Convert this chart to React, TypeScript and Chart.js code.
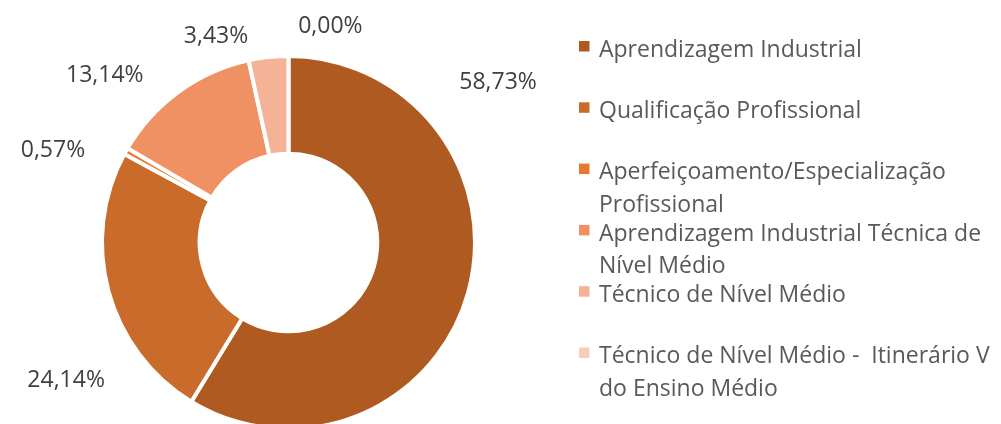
import React, { useEffect, useRef } from "react";
import { Chart, registerables } from "chart.js";

Chart.register(...registerables);

const CATEGORIES = [
  "Aprendizagem Industrial",
  "Qualificação Profissional",
  "Aperfeiçoamento/Especialização Profissional",
  "Aprendizagem Industrial Técnica de Nível Médio",
  "Técnico de Nível Médio",
  "Técnico de Nível Médio -  Itinerário V do Ensino Médio",
];
const SHARES = [58.73, 24.14, 0.57, 13.14, 3.43, 0.0];
const COLORS = ["#AE5A21", "#C96B2B", "#E6782F", "#F09163", "#F4B396", "#F8CBBA"];

// data-label placement (Excel "best fit"): angle clockwise from top (deg), gap beyond outer radius (px)
const LABEL_ANGLES = [52.4, -121.4, -68.3, -47.4, -19.2, 10.9];
const LABEL_GAPS = [80, 76, 69, 65, 36, 37];

const FONT = '"Open Sans", "Noto Sans", sans-serif';
const FONT_SIZE = 23;

const fmt = (v: number) => v.toFixed(2).replace(".", ",") + "%";

const sliceLabels = {
  id: "sliceLabels",
  afterDatasetsDraw(chart: any) {
    const ctx = chart.ctx as CanvasRenderingContext2D;
    const arc = chart.getDatasetMeta(0).data[0] as any;
    const { x, y, outerRadius } = arc.getProps(["x", "y", "outerRadius"], true);
    ctx.save();
    ctx.font = `${FONT_SIZE}px ${FONT}`;
    ctx.fillStyle = "#404040";
    ctx.textAlign = "center";
    ctx.textBaseline = "alphabetic";
    const capHalf = FONT_SIZE * 0.36;
    (chart.data.datasets[0].data as number[]).forEach((v, i) => {
      const a = (LABEL_ANGLES[i] * Math.PI) / 180;
      const r = outerRadius - 2 + LABEL_GAPS[i];
      ctx.fillText(fmt(v), x + r * Math.sin(a), y - r * Math.cos(a) + capHalf);
    });
    ctx.restore();
  },
};

const LEGEND_X = 579;
const LEGEND_FIRST_BASELINE = 56.7;
const LEGEND_STEP = 61.3;
const LEGEND_LINE = 32.5;
const LEGEND_BOX = 10.5;
const LEGEND_WRAP = 412;

function wrap(ctx: CanvasRenderingContext2D, text: string, max: number): string[] {
  const words = text.split(" ");
  const lines: string[] = [];
  let cur = "";
  for (let i = 0; i < words.length; i++) {
    const w = words[i];
    const test = cur === "" ? w : cur + " " + w;
    if (cur !== "" && w !== "" && ctx.measureText(test).width > max) {
      lines.push(cur);
      cur = w;
    } else {
      cur = test;
    }
  }
  if (cur !== "") lines.push(cur);
  return lines;
}

const sideLegend = {
  id: "sideLegend",
  afterDraw(chart: any) {
    const ctx = chart.ctx as CanvasRenderingContext2D;
    const labels = chart.data.labels as string[];
    const colors = chart.data.datasets[0].backgroundColor as string[];
    ctx.save();
    ctx.font = `${FONT_SIZE}px ${FONT}`;
    ctx.textAlign = "left";
    ctx.textBaseline = "alphabetic";
    labels.forEach((label, i) => {
      const base = LEGEND_FIRST_BASELINE + i * LEGEND_STEP;
      ctx.fillStyle = colors[i];
      ctx.fillRect(LEGEND_X, base - 15.7, LEGEND_BOX, LEGEND_BOX);
      ctx.fillStyle = "#595959";
      const lines = wrap(ctx, label, LEGEND_WRAP);
      lines.forEach((ln, j) => {
        ctx.fillText(ln, LEGEND_X + 20, base + j * LEGEND_LINE);
      });
    });
    ctx.restore();
  },
};

export default function App() {
  const ref = useRef<HTMLCanvasElement | null>(null);
  useEffect(() => {
    if (!ref.current) return;
    const chart = new Chart(ref.current, {
      type: "doughnut",
      data: {
        labels: CATEGORIES,
        datasets: [
          {
            data: SHARES,
            backgroundColor: COLORS,
            borderColor: "#ffffff",
            borderWidth: 4,
            hoverOffset: 0,
          },
        ],
      },
      options: {
        responsive: false,
        animation: false,
        cutout: "47.6%",
        layout: { padding: { left: 100, right: 524, top: 54, bottom: 9 } },
        plugins: {
          legend: { display: false },
          tooltip: { enabled: false },
        },
      },
      plugins: [sliceLabels, sideLegend],
    });
    return () => chart.destroy();
  }, []);
  return (
    <div
      style={{
        position: "fixed",
        left: 0,
        top: 0,
        width: 1001,
        height: 424,
        overflow: "hidden",
        background: "#ffffff",
      }}
    >
      <canvas ref={ref} width={1001} height={440} style={{ display: "block" }} />
    </div>
  );
}
